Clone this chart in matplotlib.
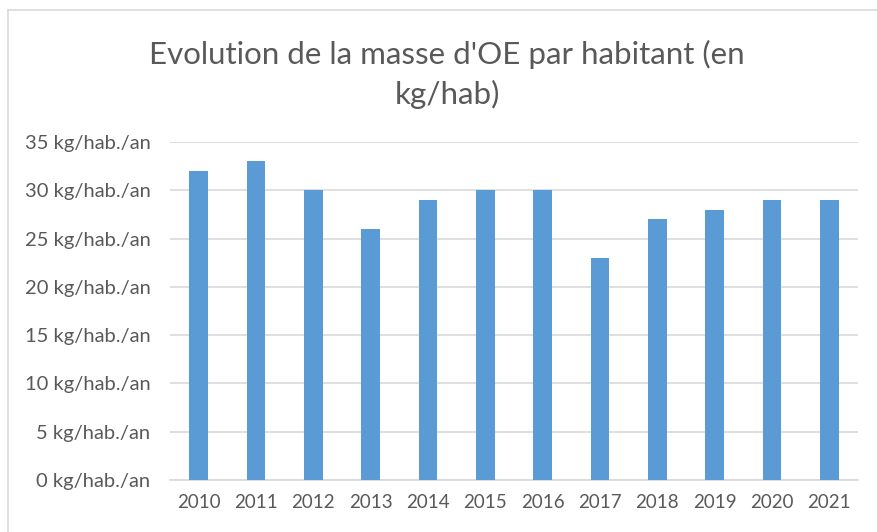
import matplotlib.pyplot as plt
from matplotlib.lines import Line2D

# Data
years = ['2010', '2011', '2012', '2013', '2014', '2015',
         '2016', '2017', '2018', '2019', '2020', '2021']
masse_oe = [32, 33, 30, 26, 29, 30, 30, 23, 27, 28, 29, 29]
yticks = [0, 5, 10, 15, 20, 25, 30, 35]
ytick_labels = [f'{v} kg/hab./an' for v in yticks]

plt.rcParams['font.family'] = ['Lato', 'DejaVu Sans']
text_color = '#595959'
grid_color = '#D9D9D9'

fig = plt.figure(figsize=(8.77, 5.32), dpi=100)
ax = fig.add_axes([170 / 877, 1 - 480 / 532, (858 - 170) / 877, (480 - 142) / 532])

ax.bar(range(len(years)), masse_oe, width=0.33, color='#5B9BD5', zorder=3)

ax.set_xlim(-0.5, len(years) - 0.5)
ax.set_ylim(0, 35)
ax.set_xticks(range(len(years)))
ax.set_xticklabels(years)
ax.set_yticks(yticks)
ax.set_yticklabels(ytick_labels)
ax.tick_params(axis='both', length=0, labelcolor=text_color)
ax.tick_params(axis='x', labelsize=13.5, pad=10)
ax.tick_params(axis='y', labelsize=14.5, pad=14)
ax.yaxis.grid(True, color=grid_color, linewidth=1.2, zorder=0)
for side in ['top', 'right', 'left']:
    ax.spines[side].set_visible(False)
ax.spines['bottom'].set_color(grid_color)
ax.spines['bottom'].set_linewidth(1.2)

# Title
fig.text(447 / 877, 1 - 74 / 532, "Evolution de la masse d'OE par habitant (en\nkg/hab)",
         ha='center', va='center', fontsize=22.5, color=text_color, linespacing=1.45)

# Chart frame (top and left edges visible)
fig.add_artist(Line2D([8 / 877, 1], [1 - 10 / 532, 1 - 10 / 532],
                      transform=fig.transFigure, color=grid_color, linewidth=1.2))
fig.add_artist(Line2D([8 / 877, 8 / 877], [0, 1 - 10 / 532],
                      transform=fig.transFigure, color=grid_color, linewidth=1.2))

fig.savefig('out.png', dpi=100)
